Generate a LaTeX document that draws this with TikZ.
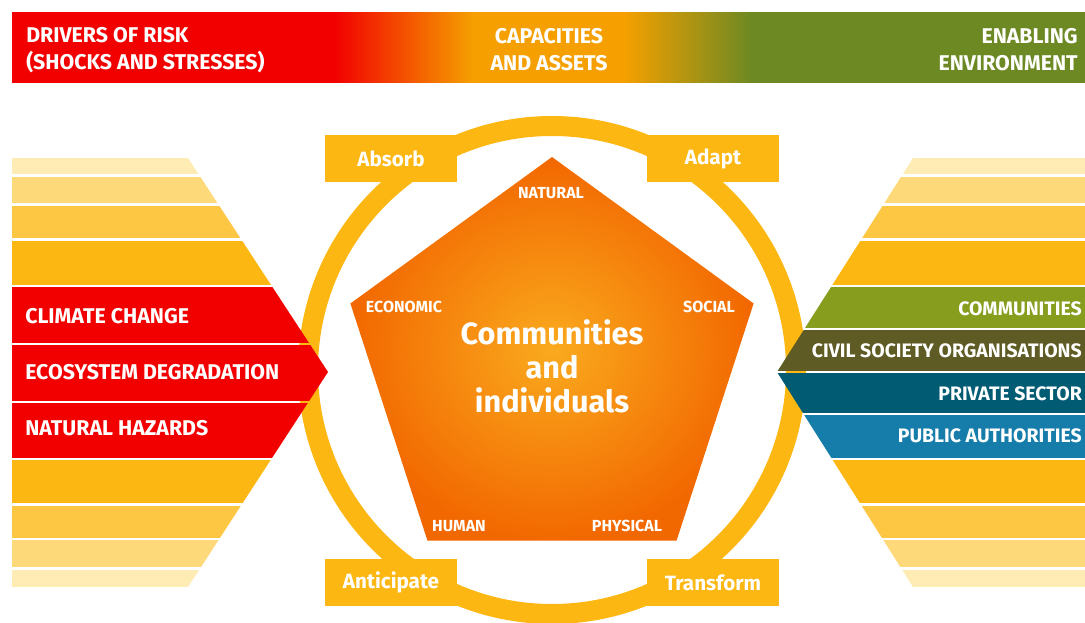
\documentclass[tikz,border=0pt]{standalone}
\usepackage{fontspec}
\setmainfont{Fira Sans}
\usetikzlibrary{positioning, calc}

\definecolor{riskred}{RGB}{242,0,0}
\definecolor{assetorange}{RGB}{245,160,0}
\definecolor{envgreen}{RGB}{108,137,35}
\definecolor{ringyellow}{RGB}{253,183,18}
\definecolor{stripeA}{RGB}{254,236,180}
\definecolor{stripeB}{RGB}{253,217,122}
\definecolor{stripeC}{RGB}{253,199,68}
\definecolor{commgreen}{RGB}{134,157,30}
\definecolor{civilolive}{RGB}{94,92,36}
\definecolor{privteal}{RGB}{0,91,115}
\definecolor{pubblue}{RGB}{22,124,170}
\definecolor{coreinner}{RGB}{250,170,30}
\definecolor{coreouter}{RGB}{242,104,0}

% red -> orange -> green along the top band
\pgfdeclarehorizontalshading{riskband}{100bp}{color(0bp)=(riskred); color(40bp)=(riskred);
  color(46.5bp)=(assetorange); color(53.5bp)=(assetorange); color(59.5bp)=(envgreen); color(100bp)=(envgreen)}

\tikzset{
  bandtext/.style={text=white, font=\bfseries\fontsize{16}{20.25}\selectfont, inner sep=0pt},
  drivertext/.style={text=white, font=\bfseries\fontsize{16}{19}\selectfont, inner sep=0pt, anchor=west},
  actortext/.style={text=white, font=\bfseries\fontsize{14.6}{17}\selectfont, inner sep=0pt, anchor=east},
  ringbox/.style={fill=ringyellow, minimum width=99pt, minimum height=35.25pt, inner sep=0pt,
    text=white, font=\bfseries\fontsize{15.5}{18}\selectfont},
  assettext/.style={text=white, font=\bfseries\fontsize{12}{14}\selectfont, inner sep=0pt},
}

\begin{document}
\begin{tikzpicture}[x=0.75pt, y=-0.75pt]
  \useasboundingbox (0,0) rectangle (1085,623);

  % top band
  \shade[shading=riskband] (12,13) rectangle (1085,83);

  \node[bandtext, anchor=west, align=left] (drivers) at (26,50) {DRIVERS OF RISK\\(SHOCKS AND STRESSES)};
  \node[bandtext, align=center] (capacities) at (549,50) {CAPACITIES\\AND ASSETS};
  \node[bandtext, anchor=east, align=right] (enabling) at (1078,50) {ENABLING\\ENVIRONMENT};

  % ring of the four capacities
  \draw[ringyellow, line width=15pt] (552,370) circle[radius=183pt];

  % striped chevrons on both sides
  \begin{scope}
    \clip (12,158) -- (188,158) -- (328,372) -- (188,587) -- (12,587) -- cycle
          (1085,158) -- (913,158) -- (777,372) -- (913,587) -- (1085,587) -- cycle;
    \foreach \ya/\yb/\col in {158/174/stripeA, 177/203/stripeB, 206/238/stripeC, 241/285/ringyellow,
                              459.5/502.5/ringyellow, 505.5/537.5/stripeC, 540/567/stripeB, 570/587/stripeA}
      \fill[\col] (0,\ya) rectangle (1085,\yb);
    % drivers of risk
    \foreach \ya/\yb in {287.5/343, 345/401, 403/457.5}
      \fill[riskred] (0,\ya) rectangle (560,\yb);
    % enabling actors
    \fill[commgreen] (560,287.5) rectangle (1085,328.5);
    \fill[civilolive] (560,330.5) rectangle (1085,371);
    \fill[privteal] (560,373) rectangle (1085,413.5);
    \fill[pubblue] (560,415.5) rectangle (1085,457.5);
  \end{scope}

  \node[drivertext] (climate) at (25,316) {CLIMATE CHANGE};
  \node[drivertext] (ecosystem) at (25,372) {ECOSYSTEM DEGRADATION};
  \node[drivertext] (hazards) at (25,428) {NATURAL HAZARDS};

  \node[actortext] (communities) at (1082,309) {COMMUNITIES};
  \node[actortext] (civil) at (1082,351) {CIVIL SOCIETY ORGANISATIONS};
  \node[actortext] (private) at (1082,394) {PRIVATE SECTOR};
  \node[actortext] (public) at (1082,436) {PUBLIC AUTHORITIES};

  % capacity boxes on the ring
  \node[ringbox] (absorb) at (391,158.5) {Absorb};
  \node[ringbox] (adapt) at (713,158.5) {Adapt};
  \node[ringbox] (anticipate) at (391,582.5) {Anticipate};
  \node[ringbox] (transform) at (713,582.5) {Transform};

  % pentagon of assets
  \shade[inner color=coreinner, outer color=coreouter]
    (552,157) -- (753.6,303.5) -- (676.6,540.5) -- (427.4,540.5) -- (350.4,303.5) -- cycle;

  \node[assettext] (natural) at (551,193) {NATURAL};
  \node[assettext] (economic) at (404,307) {ECONOMIC};
  \node[assettext] (social) at (709,307) {SOCIAL};
  \node[assettext] (human) at (459,526) {HUMAN};
  \node[assettext] (physical) at (627,526) {PHYSICAL};

  \node[text=white, font=\bfseries\fontsize{23}{25.5}\selectfont, align=center, inner sep=0pt]
    (core) at (552,366) {Communities\\and\\individuals};
\end{tikzpicture}
\end{document}
